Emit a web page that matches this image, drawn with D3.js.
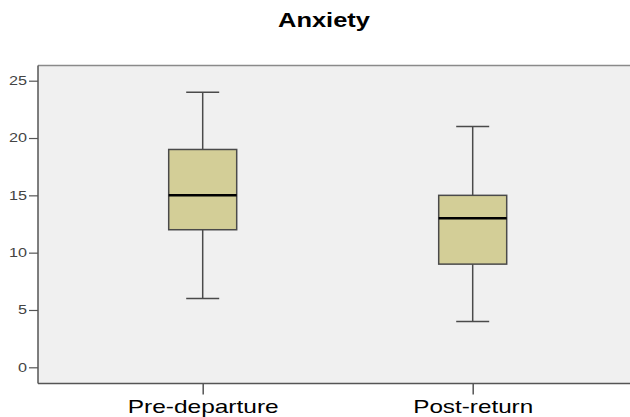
<!DOCTYPE html>
<html>
<head>
<meta charset="utf-8">
<script src="https://cdn.jsdelivr.net/npm/d3@7"></script>
<style>
  html, body { margin: 0; padding: 0; background: #ffffff; }
  svg { display: block; font-family: Arial, "Liberation Sans", sans-serif; }
</style>
</head>
<body>
<svg id="chart" width="630" height="417"></svg>
<script>
// Anxiety scores at two time points (five-number summaries)
const groups   = ["Pre-departure", "Post-return"];
const minima   = [6, 4];
const q1s      = [12, 9];
const medians  = [15, 13];
const q3s      = [19, 15];
const maxima   = [24, 21];
const yTicks   = [0, 5, 10, 15, 20, 25];
const title    = "Anxiety";

const data = groups.map((g, i) => ({
  group: g, min: minima[i], q1: q1s[i], median: medians[i], q3: q3s[i], max: maxima[i]
}));

const svg = d3.select("#chart");

const frame = { left: 38, top: 65.5, right: 640, bottom: 383.5 };

const y = d3.scaleLinear().domain([0, 25]).range([367.3, 80.7]);
const x = d3.scalePoint().domain(groups).range([202.7, 472.7]);

const boxW = 68, capW = 33;

// plot background
svg.append("rect")
  .attr("x", frame.left).attr("y", frame.top)
  .attr("width", frame.right - frame.left).attr("height", frame.bottom - frame.top)
  .attr("fill", "#f0f0f0");

// top border
svg.append("line")
  .attr("x1", frame.left).attr("x2", frame.right)
  .attr("y1", frame.top).attr("y2", frame.top)
  .attr("stroke", "#8a8a8a").attr("stroke-width", 1.5);

// boxes
const g = svg.append("g");
const box = g.selectAll("g.box").data(data).join("g").attr("class", "box");

box.append("line") // upper whisker
  .attr("x1", d => x(d.group)).attr("x2", d => x(d.group))
  .attr("y1", d => y(d.max)).attr("y2", d => y(d.q3))
  .attr("stroke", "#4a4a4a").attr("stroke-width", 1.5);
box.append("line") // lower whisker
  .attr("x1", d => x(d.group)).attr("x2", d => x(d.group))
  .attr("y1", d => y(d.q1)).attr("y2", d => y(d.min))
  .attr("stroke", "#4a4a4a").attr("stroke-width", 1.5);
box.append("line") // top cap
  .attr("x1", d => x(d.group) - capW / 2).attr("x2", d => x(d.group) + capW / 2)
  .attr("y1", d => y(d.max)).attr("y2", d => y(d.max))
  .attr("stroke", "#4a4a4a").attr("stroke-width", 1.5);
box.append("line") // bottom cap
  .attr("x1", d => x(d.group) - capW / 2).attr("x2", d => x(d.group) + capW / 2)
  .attr("y1", d => y(d.min)).attr("y2", d => y(d.min))
  .attr("stroke", "#4a4a4a").attr("stroke-width", 1.5);
box.append("rect")
  .attr("x", d => x(d.group) - boxW / 2)
  .attr("y", d => y(d.q3))
  .attr("width", boxW)
  .attr("height", d => y(d.q1) - y(d.q3))
  .attr("fill", "#d3ce97")
  .attr("stroke", "#4a4a4a").attr("stroke-width", 1.5);
box.append("line") // median
  .attr("x1", d => x(d.group) - boxW / 2).attr("x2", d => x(d.group) + boxW / 2)
  .attr("y1", d => y(d.median)).attr("y2", d => y(d.median))
  .attr("stroke", "#000").attr("stroke-width", 2.5);

// y axis
const yAxis = svg.append("g")
  .attr("transform", `translate(${frame.left},0)`)
  .call(d3.axisLeft(y).tickValues(yTicks).tickSize(9).tickPadding(2));
yAxis.select(".domain").remove();
yAxis.selectAll(".tick line").attr("stroke", "#555").attr("stroke-width", 1.2);
yAxis.selectAll(".tick text")
  .attr("fill", "#444").style("font-size", "12px")
  .attr("font-family", "Arial, 'Liberation Sans', sans-serif")
  .each(function () {
    const w = this.getComputedTextLength();
    d3.select(this).attr("textLength", w * 1.35).attr("lengthAdjust", "spacingAndGlyphs");
  });
svg.append("line")
  .attr("x1", frame.left).attr("x2", frame.left)
  .attr("y1", frame.top).attr("y2", frame.bottom)
  .attr("stroke", "#555").attr("stroke-width", 1.5);

// x axis
const xAxis = svg.append("g")
  .attr("transform", `translate(0,${frame.bottom})`)
  .call(d3.axisBottom(x).tickSize(11).tickPadding(5));
xAxis.select(".domain").remove();
xAxis.selectAll(".tick line").attr("stroke", "#555").attr("stroke-width", 1.5);
const labelWidths = { "Pre-departure": 151, "Post-return": 120 };
xAxis.selectAll(".tick text")
  .attr("fill", "#000").style("font-size", "19px")
  .attr("font-family", "Arial, 'Liberation Sans', sans-serif")
  .attr("dy", "0.71em")
  .attr("textLength", d => labelWidths[d])
  .attr("lengthAdjust", "spacingAndGlyphs");
svg.append("line")
  .attr("x1", frame.left).attr("x2", frame.right)
  .attr("y1", frame.bottom).attr("y2", frame.bottom)
  .attr("stroke", "#555").attr("stroke-width", 1.5);

// title
svg.append("text")
  .attr("x", 324).attr("y", 27)
  .attr("text-anchor", "middle")
  .style("font-size", "19.5px").style("font-weight", "bold")
  .attr("textLength", 92).attr("lengthAdjust", "spacingAndGlyphs")
  .text(title);
</script>
</body>
</html>
